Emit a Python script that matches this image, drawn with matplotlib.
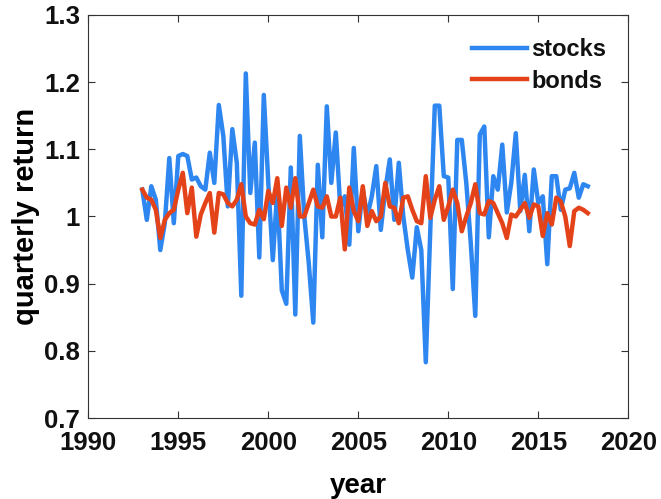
import matplotlib
matplotlib.use("Agg")
import matplotlib.pyplot as plt
import numpy as np

# quarterly samples starting 1993 Q1
START_YEAR = 1993.0

stocks = [
    1.040, 0.995, 1.045, 1.025, 0.950, 0.990, 1.087, 0.990, 1.090, 1.093,
    1.090, 1.055, 1.058, 1.045, 1.040, 1.095, 1.050, 1.166, 1.120, 1.015,
    1.130, 1.080, 0.882, 1.213, 1.035, 1.110, 0.939, 1.181, 1.050, 0.935,
    1.040, 0.890, 0.870, 1.073, 0.854, 1.120, 1.000, 0.930, 0.842, 1.077,
    0.969, 1.164, 1.050, 1.125, 1.013, 1.030, 0.958, 1.102, 0.978, 1.040,
    1.000, 1.030, 1.075, 0.980, 1.040, 1.085, 0.995, 1.080, 1.000, 0.950,
    0.909, 0.984, 0.950, 0.783, 0.980, 1.165, 1.165, 1.060, 1.058, 0.892,
    1.114, 1.114, 1.050, 0.960, 0.852, 1.122, 1.134, 0.969, 1.060, 1.040,
    1.107, 1.006, 1.050, 1.124, 1.008, 1.062, 0.978, 1.070, 1.020, 1.030,
    0.929, 1.060, 1.060, 1.010, 1.040, 1.042, 1.065, 1.028, 1.048, 1.045,
]

bonds = [
    1.040, 1.028, 1.025, 1.010, 0.968, 0.995, 1.005, 1.010, 1.040, 1.065,
    1.005, 1.043, 0.970, 1.003, 1.020, 1.035, 0.976, 1.035, 1.033, 1.020,
    1.015, 1.025, 1.048, 1.000, 0.990, 0.988, 1.010, 0.996, 1.038, 1.020,
    1.057, 0.986, 1.043, 1.013, 1.057, 1.000, 1.000, 1.020, 1.040, 1.015,
    1.013, 1.030, 1.000, 1.000, 1.028, 0.951, 1.043, 1.008, 0.993, 1.045,
    0.986, 1.008, 0.993, 1.000, 1.050, 1.015, 1.013, 0.990, 1.028, 1.030,
    1.010, 0.993, 0.990, 1.060, 0.998, 1.025, 1.045, 0.995, 1.015, 1.040,
    1.020, 0.978, 1.000, 1.020, 1.048, 1.005, 1.003, 1.023, 1.020, 1.005,
    0.990, 0.968, 1.003, 1.000, 1.010, 1.020, 0.998, 1.018, 1.015, 0.971,
    1.005, 0.988, 1.028, 1.022, 1.000, 0.956, 1.008, 1.013, 1.010, 1.005,
]

years = START_YEAR + 0.25 * np.arange(len(stocks))

x_ticks = [1990, 1995, 2000, 2005, 2010, 2015, 2020]
y_ticks = [0.7, 0.8, 0.9, 1.0, 1.1, 1.2, 1.3]
y_tick_labels = ["0.7", "0.8", "0.9", "1", "1.1", "1.2", "1.3"]

plt.rcParams["font.family"] = ["Liberation Sans", "DejaVu Sans"]
plt.rcParams["font.weight"] = "bold"

fig = plt.figure(figsize=(6.61, 4.99), dpi=100)
ax = fig.add_axes([0.1336, 0.1623, 0.8169, 0.8077])

ax.plot(years, stocks, color="#2e86f0", lw=3.2, label="stocks")
ax.plot(years, bonds, color="#e4431a", lw=3.2, label="bonds")

ax.set_xlim(1990, 2020)
ax.set_ylim(0.7, 1.3)
ax.set_xticks(x_ticks)
ax.set_yticks(y_ticks)
ax.set_xticklabels([str(t) for t in x_ticks])
ax.set_yticklabels(y_tick_labels)
ax.tick_params(direction="in", length=5, width=0.8, top=True, right=True,
               labelsize=18.5, colors="#333333")
ax.tick_params(axis="x", pad=9)
ax.tick_params(axis="y", pad=6)
for lab in ax.get_xticklabels() + ax.get_yticklabels():
    lab.set_fontweight("bold")
    lab.set_color("#111111")
for sp in ax.spines.values():
    sp.set_color("#333333")
    sp.set_linewidth(0.8)

ax.set_xlabel("year", fontsize=20, fontweight="bold", labelpad=13)
ax.set_ylabel("quarterly return", fontsize=21, fontweight="bold", labelpad=3)

leg = ax.legend(loc="upper right", bbox_to_anchor=(0.99, 0.983),
                frameon=False, fontsize=17, handlelength=2.3,
                handletextpad=0.2, labelspacing=0.35, borderaxespad=0.3)
for t in leg.get_texts():
    t.set_fontweight("bold")
    t.set_color("#111111")

fig.savefig("out.png", dpi=100)
